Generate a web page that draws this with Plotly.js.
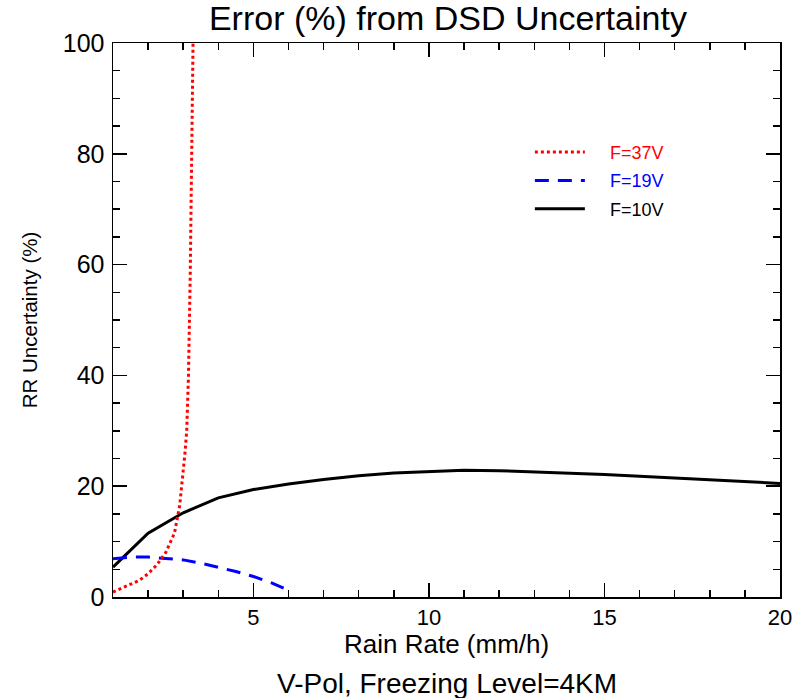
<!DOCTYPE html>
<html>
<head>
<meta charset="utf-8">
<script src="https://cdn.plot.ly/plotly-3.0.1.min.js"></script>
<style>html,body{margin:0;padding:0;background:#fff;}#chart{width:797px;height:698px;}</style>
</head>
<body>
<div id="chart"></div>
<script>
// Data
const rain10 = [1, 2, 3, 4, 5, 6, 7, 8, 9, 10, 11, 12, 13, 14, 15, 16, 17, 18, 19, 20];
const err10  = [5.4, 11.5, 15.2, 17.9, 19.4, 20.4, 21.2, 21.9, 22.4, 22.7, 22.9, 22.8, 22.6, 22.4, 22.1, 21.8, 21.5, 21.2, 20.9, 20.5];

const rain19 = [1, 1.5, 2, 2.5, 3, 3.5, 4, 4.5, 5, 5.5, 6];
const err19  = [6.9, 7.2, 7.2, 7.0, 6.7, 6.1, 5.4, 4.6, 3.7, 2.6, 1.2];

const rain37 = [1.0, 1.25, 1.5, 1.75, 2.0, 2.25, 2.5, 2.75, 2.9, 3.0, 3.05, 3.1, 3.15, 3.2, 3.24, 3.28];
const err37  = [0.9, 1.6, 2.3, 3.0, 4.2, 5.8, 8.0, 11.5, 16.5, 22.5, 26, 30, 40, 58, 80, 100];

const names = ['F=37V', 'F=19V', 'F=10V'];
const colors = ['#ff0000', '#0000ff', '#000000'];
const xTickVals = [5, 10, 15, 20];
const yTickVals = [0, 20, 40, 60, 80, 100];

const FONT = 'Liberation Sans, Arial, Helvetica, sans-serif';
const PAD = '\u00a0\u00a0\u00a0\u00a0';

const traces = [
  {x: rain10, y: err10, name: names[2], legendrank: 3, legendgroup: 'c',
   mode: 'lines', line: {color: colors[2], width: 3, dash: 'solid'}},
  {x: rain19, y: err19, name: names[1], legendrank: 2, legendgroup: 'b',
   mode: 'lines', line: {color: colors[1], width: 3, dash: '14px,9px'}},
  {x: rain37, y: err37, name: names[0], legendrank: 1, legendgroup: 'a',
   mode: 'lines', line: {color: colors[0], width: 3, dash: 'dot'}}
].map(t => Object.assign(t, {
  name: PAD + '<span style="color:' + t.line.color + '">' + t.name + '</span>',
  hoverinfo: 'skip'
}));

const axisCommon = {
  showline: true, linecolor: '#000', linewidth: 1.5, mirror: 'ticks',
  ticks: 'inside', ticklen: 14, tickwidth: 1.5, tickcolor: '#000',
  showgrid: false, zeroline: false
};

const layout = {
  width: 797, height: 698,
  paper_bgcolor: '#fff', plot_bgcolor: '#fff',
  margin: {l: 113, r: 17, t: 43, b: 101},
  title: {text: 'Error (%) from DSD Uncertainty', x: 0.562, xanchor: 'center', y: 0.974, yanchor: 'middle',
          font: {family: FONT, size: 34, color: '#000'}},
  xaxis: Object.assign({}, axisCommon, {
    range: [1, 20], tickvals: xTickVals, ticktext: xTickVals.map(String),
    tickfont: {family: FONT, size: 22, color: '#000'},
    minor: {dtick: 1, ticklen: 7, ticks: 'inside', tickwidth: 1.5, tickcolor: '#000'}
  }),
  yaxis: Object.assign({}, axisCommon, {
    range: [0, 100], tickvals: yTickVals, ticktext: yTickVals.map(String),
    tickfont: {family: FONT, size: 25, color: '#000'},
    ticklabelstandoff: 2,
    minor: {dtick: 5, ticklen: 7, ticks: 'inside', tickwidth: 1.5, tickcolor: '#000'},
    title: {text: 'RR Uncertainty (%)', font: {family: FONT, size: 20.5, color: '#000'}, standoff: 19}
  }),
  showlegend: true,
  legend: {x: 0.625, y: 0.836, xanchor: 'left', yanchor: 'top', bgcolor: 'rgba(0,0,0,0)',
           font: {family: FONT, size: 18}, tracegroupgap: 2, itemwidth: 50, traceorder: 'grouped'},
  annotations: [{
    text: 'Rain Rate (mm/h)', xref: 'paper', yref: 'paper', x: 0.5, y: -0.085,
    xanchor: 'center', yanchor: 'middle', showarrow: false,
    font: {family: FONT, size: 26, color: '#000'}
  }, {
    text: 'V-Pol, Freezing Level=4KM', xref: 'paper', yref: 'paper', x: 0.5, y: -0.157,
    xanchor: 'center', yanchor: 'middle', showarrow: false,
    font: {family: FONT, size: 28, color: '#000'}
  }]
};

Plotly.newPlot('chart', traces, layout, {displayModeBar: false, staticPlot: true});
</script>
</body>
</html>
